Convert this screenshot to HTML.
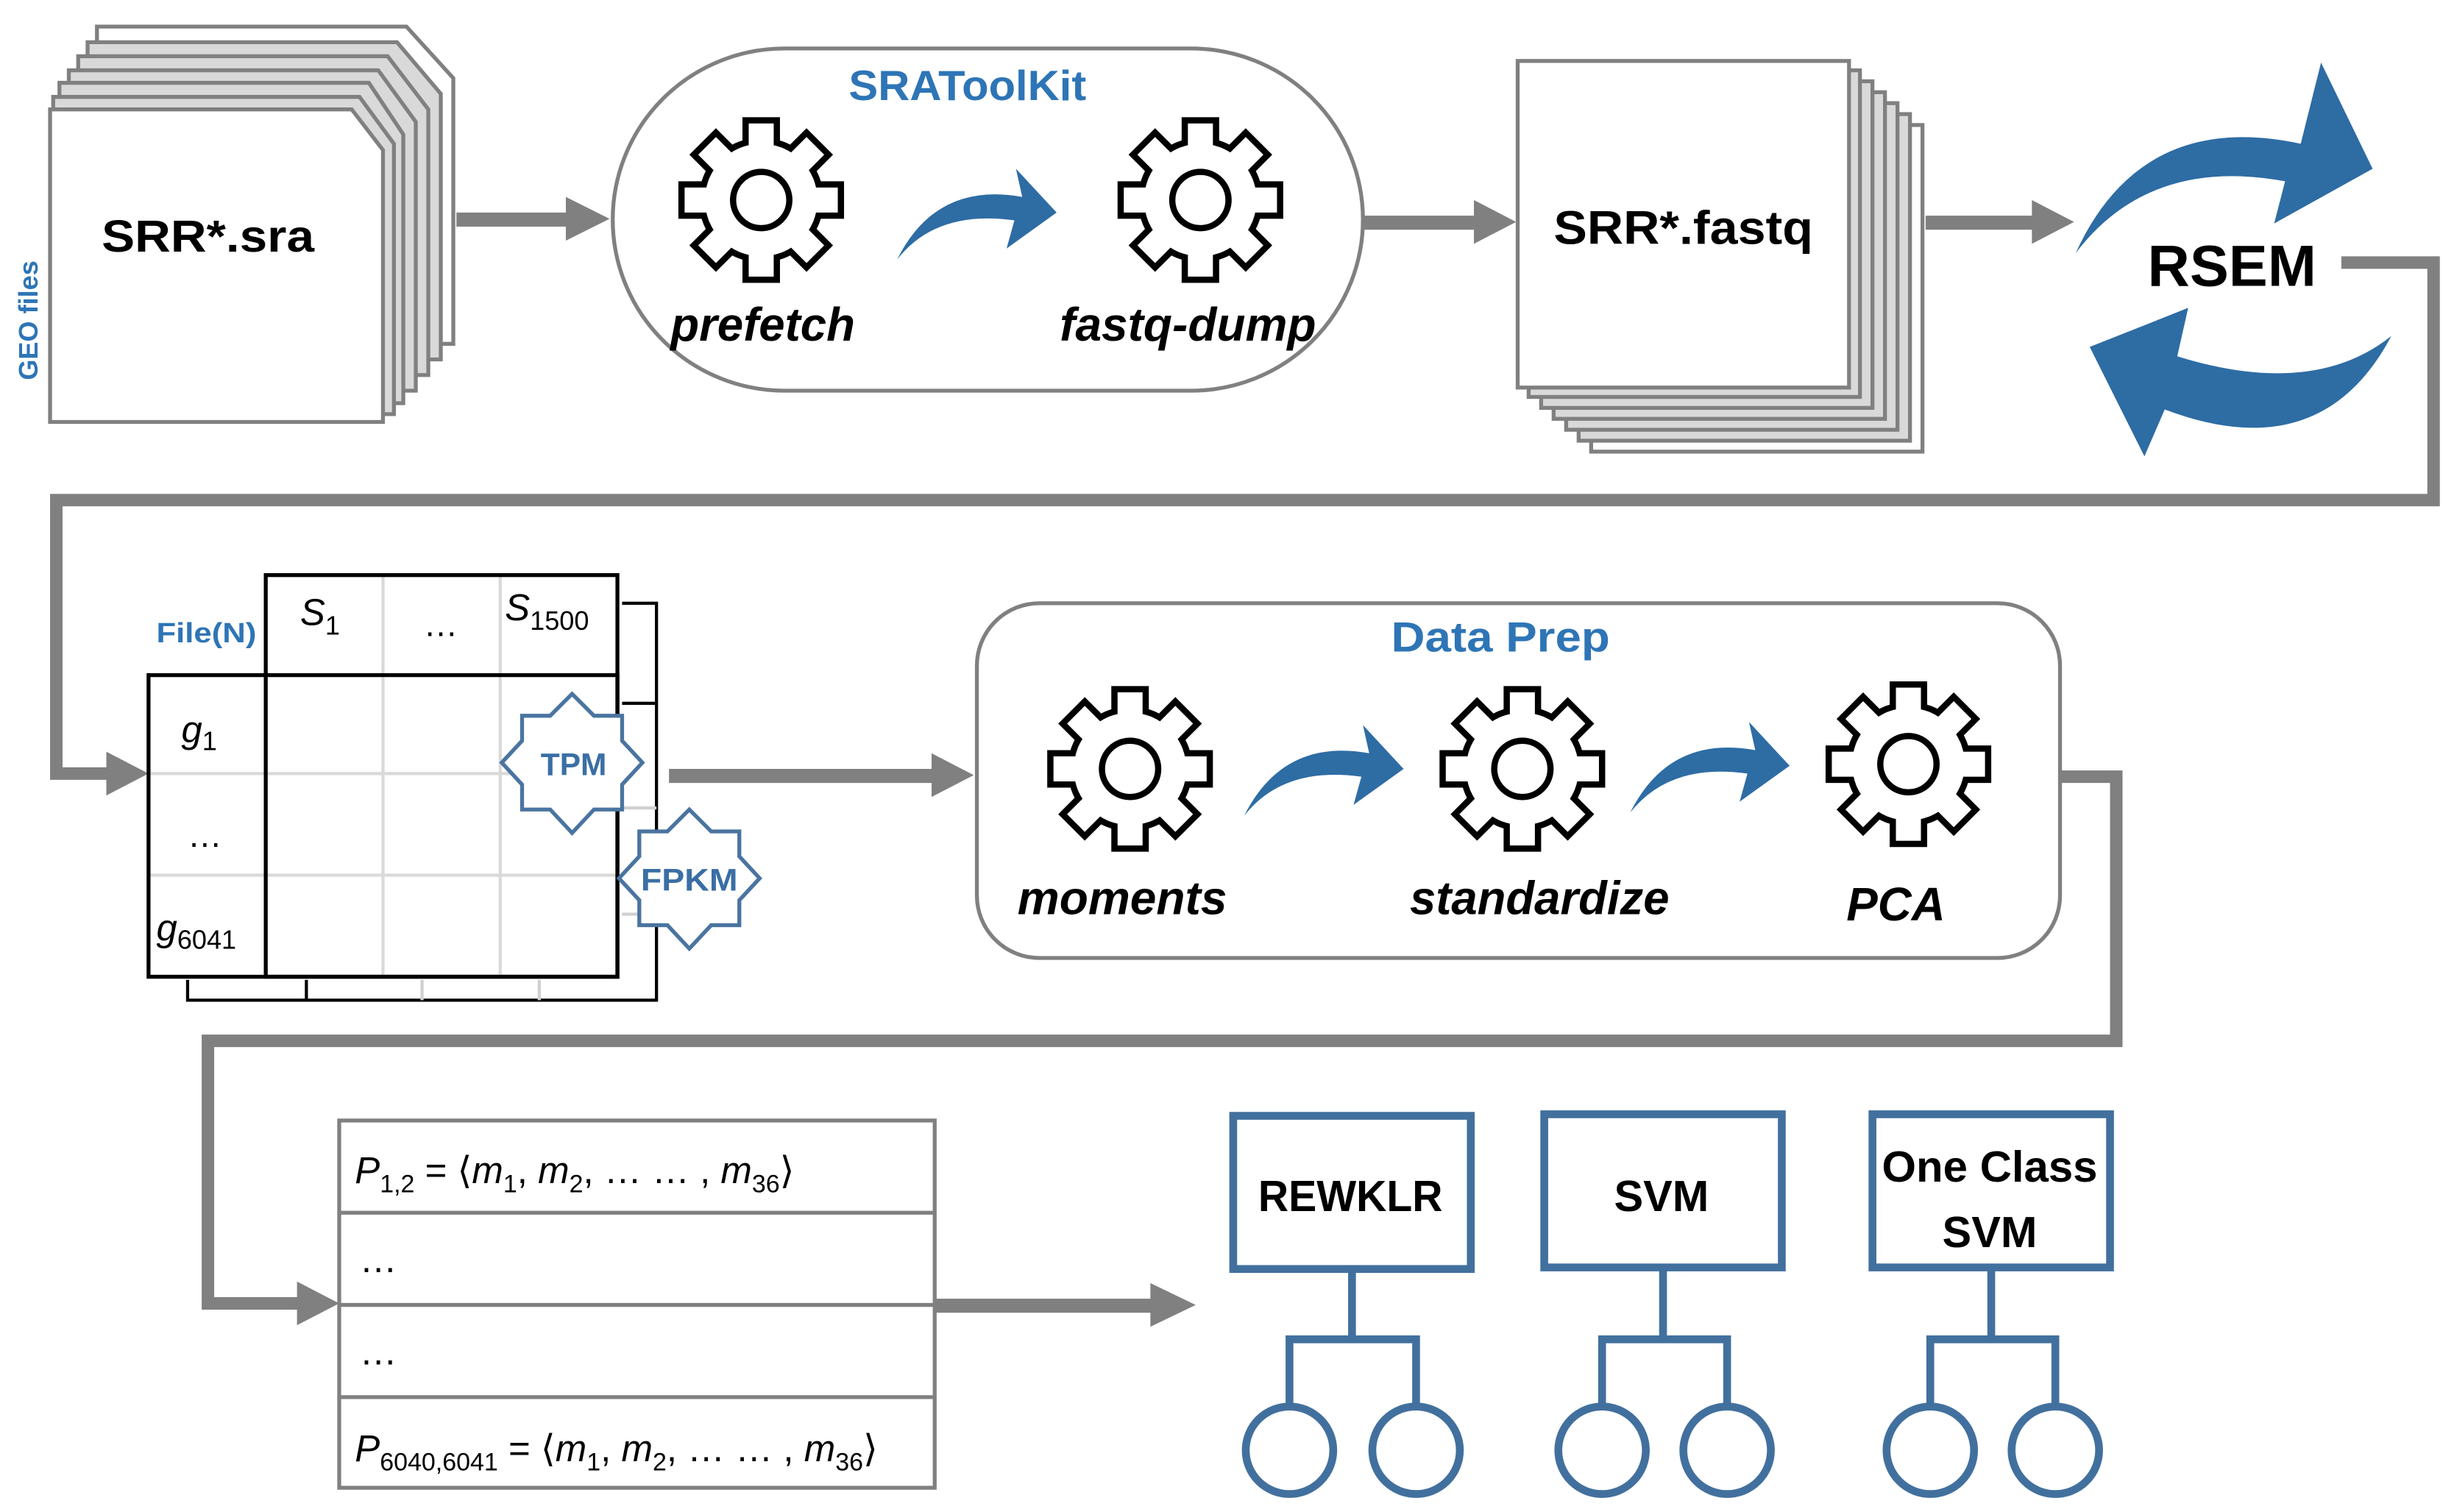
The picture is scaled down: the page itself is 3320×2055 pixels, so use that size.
<!DOCTYPE html>
<html><head><meta charset="utf-8"><style>
html,body{margin:0;padding:0;background:#fff;}
svg{display:block;}
text{font-family:"Liberation Sans","DejaVu Sans",sans-serif;}
</style></head><body>
<svg width="3320" height="2055" viewBox="0 0 1563 967.5" xmlns="http://www.w3.org/2000/svg">
<defs>
<g id="gear">
  <circle r="38" fill="#fff" stroke="#000" stroke-width="4"/>
  <g fill="#fff" stroke="#000" stroke-width="4" stroke-linejoin="miter">
    <rect x="-10" y="-51" width="20" height="22"/>
    <rect x="-10" y="-51" width="20" height="22" transform="rotate(45)"/>
    <rect x="-10" y="-51" width="20" height="22" transform="rotate(90)"/>
    <rect x="-10" y="-51" width="20" height="22" transform="rotate(135)"/>
    <rect x="-10" y="-51" width="20" height="22" transform="rotate(180)"/>
    <rect x="-10" y="-51" width="20" height="22" transform="rotate(225)"/>
    <rect x="-10" y="-51" width="20" height="22" transform="rotate(270)"/>
    <rect x="-10" y="-51" width="20" height="22" transform="rotate(315)"/>
  </g>
  <circle r="36" fill="#fff" stroke="none"/>
  <circle r="18" fill="#fff" stroke="#000" stroke-width="4"/>
</g>
<path id="barrow" d="M0,40 Q25,-10 80,0 L76,-18 L102,10 L70,33 L75,15 Q25,8 0,40Z" fill="#2e6ca4"/>
</defs>

<!-- SRA stack -->
<g stroke="#808080" stroke-width="2.5">
  <path d="M62,17 L260,17 L290,50 L290,220 L62,220Z" fill="#fff"/>
  <path d="M56,27 L254,27 L282,60 L282,230 L56,230Z" fill="#d9d9d9"/>
  <path d="M50,36 L248,36 L274,70 L274,240 L50,240Z" fill="#d9d9d9"/>
  <path d="M44,45 L242,45 L266,78 L266,250 L44,250Z" fill="#d9d9d9"/>
  <path d="M38,53 L236,53 L258,86 L258,258 L38,258Z" fill="#d9d9d9"/>
  <path d="M34,62 L230,62 L252,92 L252,265 L34,265Z" fill="#d9d9d9"/>
  <path d="M32,70 L225,70 L245,96 L245,270 L32,270Z" fill="#fff"/>
</g>
<text x="133" y="161" font-size="29" font-weight="bold" text-anchor="middle" textLength="136" lengthAdjust="spacingAndGlyphs">SRR*.sra</text>
<text transform="translate(24,205) rotate(-90)" font-size="17" font-weight="bold" fill="#2e75b6" text-anchor="middle">GEO files</text>

<!-- gray connectors -->
<g fill="#808080">
  <rect x="292" y="136" width="72" height="9"/><path d="M362,126 L390,140 L362,154Z"/>
  <rect x="873" y="138" width="72" height="9"/><path d="M943,128 L970,142 L943,156Z"/>
  <rect x="1232" y="138" width="70" height="9"/><path d="M1300,128 L1327,142 L1300,156Z"/>
  <rect x="428" y="492" width="170" height="9"/><path d="M596,482 L623,496 L596,510Z"/>
  <rect x="598" y="831" width="140" height="9"/><path d="M736,821 L765,835 L736,849Z"/>
</g>
<g fill="none" stroke="#808080" stroke-width="8">
  <path d="M1498,168 L1557,168 L1557,320 L36,320 L36,495 L70,495"/>
  <path d="M1318,497 L1354,497 L1354,666 L133,666 L133,834 L192,834"/>
</g>
<g fill="#808080">
  <path d="M68,481 L95,495 L68,509Z"/>
  <path d="M190,820 L217,834 L190,848Z"/>
</g>

<!-- SRAToolKit -->
<rect x="392" y="31" width="480" height="219" rx="110" ry="110" fill="#fff" stroke="#808080" stroke-width="2.5"/>
<text x="619" y="64" font-size="27" font-weight="bold" fill="#2e75b6" text-anchor="middle" textLength="152" lengthAdjust="spacingAndGlyphs">SRAToolKit</text>
<use href="#gear" x="487" y="128"/>
<use href="#gear" x="768" y="128"/>
<use href="#barrow" x="574" y="126"/>
<text x="488" y="218" font-size="30" font-weight="bold" font-style="italic" text-anchor="middle" textLength="118" lengthAdjust="spacingAndGlyphs">prefetch</text>
<text x="760" y="218" font-size="30" font-weight="bold" font-style="italic" text-anchor="middle" textLength="164" lengthAdjust="spacingAndGlyphs">fastq-dump</text>

<!-- fastq stack -->
<g stroke="#808080" stroke-width="2.5" fill="#d9d9d9">
  <rect x="1018" y="80" width="212" height="209" fill="#fff"/>
  <rect x="1010" y="73" width="212" height="209"/>
  <rect x="1002" y="66" width="212" height="209"/>
  <rect x="994" y="59" width="212" height="209"/>
  <rect x="986" y="52" width="212" height="209"/>
  <rect x="978" y="45" width="212" height="209"/>
  <rect x="971" y="39" width="212" height="209" fill="#fff"/>
</g>
<text x="1077" y="156" font-size="30" font-weight="bold" text-anchor="middle" textLength="166" lengthAdjust="spacingAndGlyphs">SRR*.fastq</text>

<!-- RSEM -->
<path d="M1328,162 Q1370,70 1472,92 L1485,40 L1518,108 L1455,143 L1462,116 Q1375,100 1328,162Z" fill="#2e6ca4"/>
<path d="M1530,215 Q1485,300 1385,262 L1372,292 L1337,222 L1400,197 L1393,228 Q1480,255 1530,215Z" fill="#2e6ca4"/>
<text x="1428" y="183" font-size="37" font-weight="bold" text-anchor="middle" textLength="108" lengthAdjust="spacingAndGlyphs">RSEM</text>

<!-- Count table -->
<g fill="none" stroke="#000" stroke-width="2">
  <path d="M398,386 L420,386 L420,640 L120,640 L120,627"/>
  <path d="M398,450 L420,450"/>
  <path d="M196,627 L196,640"/>
</g>
<g stroke="#d0d0d0" stroke-width="2">
  <line x1="270" y1="627" x2="270" y2="640"/><line x1="345" y1="627" x2="345" y2="640"/>
  <line x1="398" y1="517" x2="420" y2="517"/><line x1="398" y1="585" x2="420" y2="585"/>
</g>
<g stroke="#d9d9d9" stroke-width="2">
  <line x1="245" y1="368" x2="245" y2="625"/>
  <line x1="320" y1="368" x2="320" y2="625"/>
  <line x1="95" y1="495" x2="395" y2="495"/>
  <line x1="95" y1="560" x2="395" y2="560"/>
</g>
<g fill="none" stroke="#000" stroke-width="2.5">
  <rect x="170" y="368" width="225" height="257"/>
  <rect x="95" y="432" width="300" height="193"/>
</g>
<text x="132" y="411" font-size="18" font-weight="bold" fill="#2e75b6" text-anchor="middle" textLength="64" lengthAdjust="spacingAndGlyphs">File(N)</text>
<g font-family="Liberation Serif,serif" font-style="italic">
  <text x="192" y="400" font-size="24">S<tspan font-style="normal" font-size="17" dy="6">1</tspan></text>
  <text x="323" y="397" font-size="24">S<tspan font-style="normal" font-size="17" dy="6">1500</tspan></text>
  <text x="116" y="475" font-size="24">g<tspan font-style="normal" font-size="17" dy="5">1</tspan></text>
  <text x="100" y="602" font-size="24">g<tspan font-style="normal" font-size="17" dy="5">6041</tspan></text>
</g>
<text x="282" y="407" font-size="22" text-anchor="middle">…</text>
<text x="131" y="542" font-size="22" text-anchor="middle">…</text>
<g fill="#fff" stroke="#4a74a0" stroke-width="2.5">
  <polygon points="366,444 380,458 398,458 398,474 411,488 398,502 398,518 380,518 366,533 352,518 334,518 334,502 321,488 334,474 334,458 352,458"/>
  <polygon points="441,518 455,532 473,532 473,548 486,562 473,576 473,592 455,592 441,607 427,592 409,592 409,576 396,562 409,548 409,532 427,532"/>
</g>
<text x="367" y="496" font-size="20" font-weight="bold" fill="#3a6ea5" text-anchor="middle">TPM</text>
<text x="441" y="570" font-size="20" font-weight="bold" fill="#3a6ea5" text-anchor="middle" textLength="62" lengthAdjust="spacingAndGlyphs">FPKM</text>

<!-- Data Prep -->
<rect x="625" y="386" width="693" height="227" rx="40" ry="40" fill="#fff" stroke="#808080" stroke-width="2.5"/>
<text x="960" y="417" font-size="27" font-weight="bold" fill="#2e75b6" text-anchor="middle" textLength="140" lengthAdjust="spacingAndGlyphs">Data Prep</text>
<use href="#gear" x="723" y="492"/>
<use href="#gear" x="974" y="492"/>
<use href="#gear" x="1221" y="489"/>
<use href="#barrow" x="796" y="482"/>
<use href="#barrow" x="1043" y="480"/>
<text x="718" y="585" font-size="30" font-weight="bold" font-style="italic" text-anchor="middle" textLength="134" lengthAdjust="spacingAndGlyphs">moments</text>
<text x="985" y="585" font-size="30" font-weight="bold" font-style="italic" text-anchor="middle" textLength="166" lengthAdjust="spacingAndGlyphs">standardize</text>
<text x="1213" y="589" font-size="30" font-weight="bold" font-style="italic" text-anchor="middle">PCA</text>

<!-- P table -->
<g fill="none" stroke="#808080" stroke-width="2.5">
  <rect x="217" y="717" width="381" height="235"/>
  <line x1="217" y1="776" x2="598" y2="776"/>
  <line x1="217" y1="835" x2="598" y2="835"/>
  <line x1="217" y1="894" x2="598" y2="894"/>
</g>
<g font-family="Liberation Serif,serif" font-size="24">
  <text x="227" y="757"><tspan font-style="italic">P</tspan><tspan font-size="16" dy="6">1,2</tspan><tspan dy="-6"> = ⟨</tspan><tspan font-style="italic">m</tspan><tspan font-size="16" dy="6">1</tspan><tspan dy="-6">, </tspan><tspan font-style="italic">m</tspan><tspan font-size="16" dy="6">2</tspan><tspan dy="-6">, … … , </tspan><tspan font-style="italic">m</tspan><tspan font-size="16" dy="6">36</tspan><tspan dy="-6">⟩</tspan></text>
  <text x="227" y="935"><tspan font-style="italic">P</tspan><tspan font-size="16" dy="6">6040,6041</tspan><tspan dy="-6"> = ⟨</tspan><tspan font-style="italic">m</tspan><tspan font-size="16" dy="6">1</tspan><tspan dy="-6">, </tspan><tspan font-style="italic">m</tspan><tspan font-size="16" dy="6">2</tspan><tspan dy="-6">, … … , </tspan><tspan font-style="italic">m</tspan><tspan font-size="16" dy="6">36</tspan><tspan dy="-6">⟩</tspan></text>
  <text x="230" y="814">…</text>
  <text x="230" y="873">…</text>
</g>

<!-- Models -->
<g fill="#fff" stroke="#42709e" stroke-width="5">
  <rect x="789" y="714" width="152" height="98"/>
  <rect x="988" y="713" width="152" height="98"/>
  <rect x="1198" y="713" width="152" height="98"/>
  <path d="M865,812 L865,857 M825,900 L825,857 L906,857 L906,900" fill="none"/>
  <path d="M1064,811 L1064,857 M1025,900 L1025,857 L1105,857 L1105,900" fill="none"/>
  <path d="M1274,811 L1274,857 M1235,900 L1235,857 L1315,857 L1315,900" fill="none"/>
  <circle cx="825" cy="928" r="28"/><circle cx="906" cy="928" r="28"/>
  <circle cx="1025" cy="928" r="28"/><circle cx="1105" cy="928" r="28"/>
  <circle cx="1235" cy="928" r="28"/><circle cx="1315" cy="928" r="28"/>
</g>
<text x="864" y="775" font-size="28" font-weight="bold" text-anchor="middle" textLength="118" lengthAdjust="spacingAndGlyphs">REWKLR</text>
<text x="1063" y="775" font-size="28" font-weight="bold" text-anchor="middle">SVM</text>
<text x="1273" y="756" font-size="28" font-weight="bold" text-anchor="middle" textLength="138" lengthAdjust="spacingAndGlyphs">One Class</text>
<text x="1273" y="798" font-size="28" font-weight="bold" text-anchor="middle">SVM</text>
</svg>
</body></html>
